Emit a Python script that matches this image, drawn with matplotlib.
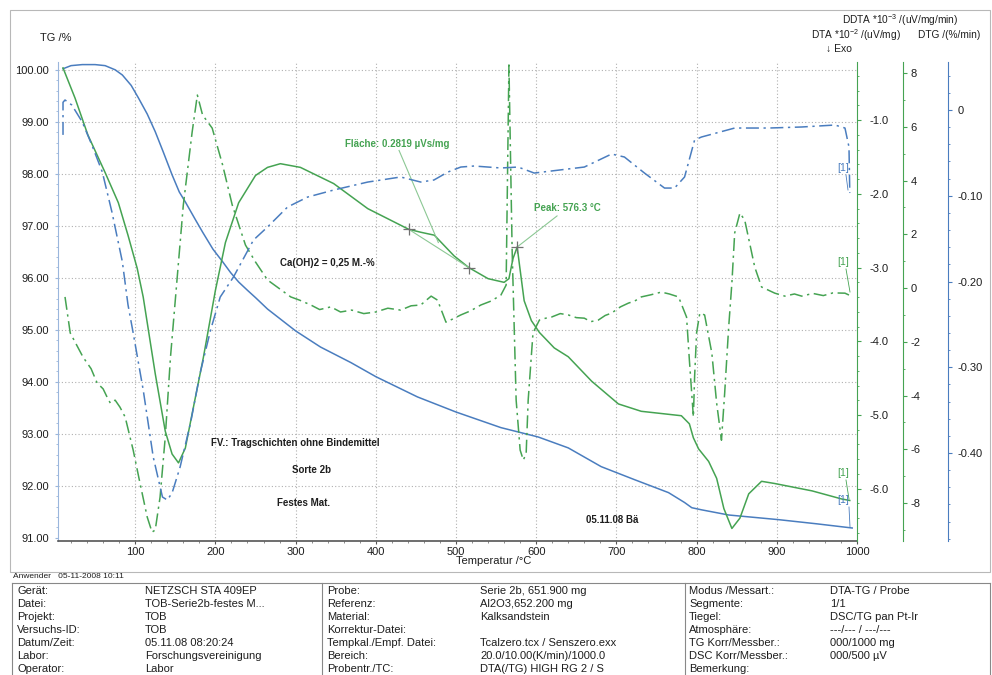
import matplotlib
matplotlib.use('Agg')
import matplotlib.pyplot as plt
from matplotlib.ticker import MultipleLocator, FixedLocator, FuncFormatter
from matplotlib.lines import Line2D
from matplotlib.patches import Rectangle

plt.rcParams['font.family'] = ['Liberation Sans', 'DejaVu Sans']
plt.rcParams['mathtext.fontset'] = 'custom'
plt.rcParams['mathtext.rm'] = 'Liberation Sans'

W, H = 992, 675
BLUE = '#4a7dbf'
GREEN = '#45a352'
LBLUE = '#9ab6dc'
TXT = '#1e1e1e'
DASHDOT = (0, (8.5, 3, 1.5, 3))

# --- TG (%)
tg_t = [10, 20, 34, 50, 62.5, 75, 84, 95, 104, 115, 125, 135, 146, 155, 162.5,
        175, 184, 197, 209, 219, 229, 240, 250, 265, 280, 300, 331, 369, 400,
        452, 500, 556, 602.5, 640, 681, 722.5, 765, 785, 794, 806, 840, 902.5,
        950, 994]
tg_v = [100.02, 100.08, 100.10, 100.10, 100.08, 100.00, 99.90, 99.70, 99.46,
        99.15, 98.81, 98.42, 97.98, 97.65, 97.46, 97.12, 96.88, 96.55, 96.31,
        96.10, 95.92, 95.76, 95.62, 95.40, 95.22, 94.98, 94.67, 94.37, 94.10,
        93.71, 93.42, 93.12, 92.94, 92.73, 92.37, 92.12, 91.87, 91.68, 91.58,
        91.54, 91.44, 91.35, 91.27, 91.19]

# --- DTA *10^-2 (uV/mg)
dta_t = [10, 25, 41, 62.5, 79, 91, 102.5, 110, 125, 137.5, 146, 154, 162.5,
         172.5, 185, 200, 212.5, 229, 250, 265, 281, 306, 347.5, 390, 441, 456,
         473, 497.5, 516, 540, 560, 566, 571, 576.3, 579, 585, 594, 604, 622.5,
         640, 669, 702.5, 731, 781, 791, 796, 802.5, 815, 825, 834, 844, 854,
         865, 881, 897.5, 944, 981, 991]
dta_v = [-0.29, -0.70, -1.20, -1.71, -2.12, -2.56, -3.01, -3.40, -4.44, -5.22,
         -5.53, -5.65, -5.45, -4.90, -4.22, -3.31, -2.66, -2.12, -1.75, -1.64,
         -1.59, -1.64, -1.86, -2.20, -2.48, -2.52, -2.56, -2.84, -3.00, -3.15,
         -3.20, -3.15, -2.88, -2.72, -2.95, -3.45, -3.72, -3.88, -4.09, -4.21,
         -4.54, -4.85, -4.95, -5.01, -5.12, -5.31, -5.46, -5.63, -5.86, -6.27,
         -6.54, -6.40, -6.07, -5.90, -5.93, -6.03, -6.14, -6.16]

# --- DDTA *10^-3 (uV/mg/min)
ddta_t = [12.5, 19, 35, 45, 52.5, 60, 65, 69, 75, 81, 87.5, 97.5, 106, 115, 121,
          125, 131, 137.5, 144, 150, 160, 171, 177.5, 184, 196, 209, 221, 237.5,
          250, 265, 294, 305, 319, 330, 344, 356, 370, 385, 400, 415, 431, 444,
          456, 469, 477, 487.5, 496, 506, 518, 531, 544, 556, 562.5, 566, 570,
          575, 580, 584, 587.5, 590, 596, 604, 612, 619, 630, 640, 650, 660,
          668, 677.5, 686, 694, 705, 715, 723, 731, 743, 756, 766, 777.5, 787.5,
          791, 796, 797.5, 800, 804, 810, 819, 825, 831, 835, 840, 844, 847.5,
          854, 860, 872.5, 881, 897.5, 910, 922, 931, 945, 958, 970, 985, 990]
ddta_v = [-0.33, -1.67, -2.57, -3.00, -3.53, -3.75, -4.06, -4.28, -4.17, -4.43,
          -4.80, -6.03, -7.26, -8.52, -9.08, -9.00, -7.78, -5.54, -2.57, -0.45,
          3.09, 5.80, 7.18, 6.44, 5.95, 4.58, 3.09, 1.60, 0.97, 0.30, -0.33,
          -0.45, -0.63, -0.80, -0.70, -0.89, -0.82, -0.95, -0.89, -0.75, -0.82,
          -0.66, -0.63, -0.30, -0.45, -1.27, -1.15, -1.00, -0.85, -0.63, -0.48,
          -0.26, 0.11, 8.30, 1.41, -4.17, -6.03, -6.40, -6.14, -4.17, -1.67,
          -1.19, -1.12, -1.08, -0.95, -1.00, -1.10, -1.12, -1.25, -1.19, -1.02,
          -0.93, -0.70, -0.56, -0.48, -0.33, -0.25, -0.15, -0.22, -0.33, -1.08,
          -2.68, -4.80, -3.31, -1.67, -0.93, -1.00, -2.42, -4.28, -5.66, -3.91,
          -1.45, 0.19, 2.05, 2.79, 2.53, 0.78, 0.04, -0.19, -0.30, -0.22, -0.30,
          -0.20, -0.28, -0.18, -0.19, -0.26]

# --- DTG (%/min)
dtg_t = [10, 10, 12.5, 21, 34, 46, 59, 71, 84, 91, 97.5, 110, 122.5, 134, 140,
         146, 156, 169, 181, 194, 206, 222.5, 247.5, 265, 290, 315, 347.5, 390,
         431, 456, 472.5, 490, 506, 522.5, 556, 577.5, 597.5, 619, 660, 694,
         710, 735, 760, 772.5, 785, 797.5, 806, 847.5, 890, 931, 972.5, 985,
         990, 991]
dtg_v = [-0.029, 0.009, 0.0117, 0.0058, -0.014, -0.0408, -0.0723, -0.119,
         -0.177, -0.227, -0.260, -0.3265, -0.4047, -0.4513, -0.4548, -0.4466,
         -0.4163, -0.365, -0.3067, -0.2566, -0.2181, -0.1948, -0.1516, -0.1364,
         -0.1131, -0.1015, -0.0933, -0.084, -0.0781, -0.084, -0.0816, -0.0723,
         -0.0665, -0.0653, -0.0676, -0.0665, -0.0735, -0.0711, -0.0665,
         -0.0513, -0.0548, -0.0735, -0.091, -0.091, -0.0781, -0.035, -0.0315,
         -0.021, -0.021, -0.0198, -0.0175, -0.021, -0.0431, -0.0968]

# evaluation markers on the DTA curve
area_pts_t = [441, 516]
area_pts_v = [-2.48, -3.00]
peak_t, peak_v = 576.3, -2.72

x_ticks = [100, 200, 300, 400, 500, 600, 700, 800, 900, 1000]
tg_ticks = [91, 92, 93, 94, 95, 96, 97, 98, 99, 100]
dta_ticks = [-6, -5, -4, -3, -2, -1]
ddta_ticks = [-8, -6, -4, -2, 0, 2, 4, 6, 8]
dtg_ticks = [-0.4, -0.3, -0.2, -0.1, 0.0]


def fx(x):
    return x / W


def fy(y):
    return 1 - y / H


fig = plt.figure(figsize=(W / 100, H / 100), dpi=100)
fig.patch.set_facecolor('white')

# outer frame of the plot page
fig.add_artist(Rectangle((fx(10), fy(572)), fx(980), 562 / H, fill=False,
                         ec='#b8b8b8', lw=0.8, transform=fig.transFigure))

ax = fig.add_axes([fx(58), fy(541), fx(857 - 58), (541 - 62) / H])
ax.set_xlim(3.75, 1000)
ax.set_ylim(90.94, 100.15)
ax.xaxis.set_major_locator(FixedLocator(x_ticks))
ax.xaxis.set_minor_locator(MultipleLocator(20))
ax.yaxis.set_major_locator(FixedLocator(tg_ticks))
ax.yaxis.set_minor_locator(MultipleLocator(0.2))
ax.yaxis.set_major_formatter(FuncFormatter(lambda v, p: f'{v:.2f}'))
ax.tick_params(axis='x', which='major', length=2.5, pad=1.5, labelsize=8,
               colors='#555555', labelcolor=TXT)
ax.tick_params(axis='x', which='minor', length=1.5, colors='#777777')
ax.tick_params(axis='y', which='major', length=2.5, pad=4, labelsize=8,
               colors=LBLUE, labelcolor=TXT)
ax.tick_params(axis='y', which='minor', length=1.5, colors=LBLUE)
for s in ('top', 'right'):
    ax.spines[s].set_visible(False)
ax.spines['left'].set_color(LBLUE)
ax.spines['bottom'].set_color('#555555')
ax.spines['bottom'].set_linewidth(1.2)

# dotted grid at the major ticks
for t in x_ticks[:-1]:
    ax.axvline(t, color='#b0b0b0', lw=0.8, ls=(0, (1, 2)), zorder=0)
for v in tg_ticks[1:]:
    ax.axhline(v, color='#b0b0b0', lw=0.8, ls=(0, (1, 2)), zorder=0)

ax.plot(tg_t, tg_v, color=BLUE, lw=1.1, zorder=3)


def side_axis(offset_px, color, lo, hi, ticks, minor, fmt, pad):
    a = ax.twinx()
    a.set_ylim(lo, hi)
    for s in ('top', 'left', 'bottom'):
        a.spines[s].set_visible(False)
    a.spines['right'].set_position(('outward', offset_px * 0.72))
    a.spines['right'].set_color(color)
    a.yaxis.set_major_locator(FixedLocator(ticks))
    a.yaxis.set_minor_locator(MultipleLocator(minor))
    a.yaxis.set_major_formatter(FuncFormatter(fmt))
    a.tick_params(axis='y', which='major', length=3, pad=pad, labelsize=8,
                  colors=color, labelcolor=TXT)
    a.tick_params(axis='y', which='minor', length=1.5, colors=color)
    return a


ax2 = side_axis(0, GREEN, -6.71, -0.21, dta_ticks, 0.2,
                lambda v, p: f'{v:.1f}', 6)
ax3 = side_axis(46, GREEN, -9.41, 8.41, ddta_ticks, 1,
                lambda v, p: f'{v:.0f}', 2.5)
ax4 = side_axis(91, BLUE, -0.5026, 0.056, dtg_ticks, 0.02,
                lambda v, p: '0' if abs(v) < 1e-9 else f'{v:.2f}', 4)

ax2.plot(dta_t, dta_v, color=GREEN, lw=1.1)
ax3.plot(ddta_t, ddta_v, color=GREEN, lw=1.1, ls=DASHDOT)
ax4.plot(dtg_t, dtg_v, color=BLUE, lw=1.1, ls=DASHDOT)

# peak area: baseline, crosses and labels
ax2.plot(area_pts_t, area_pts_v, color='#8cc894', lw=0.8)
ax2.plot(area_pts_t + [peak_t], area_pts_v + [peak_v], ls='none', marker='+',
         ms=8, mew=0.9, color='#707070', zorder=5)
ax2.plot([429, 478], [-1.41, -2.66], color='#8cc894', lw=0.8)
ax2.text(362, -1.39, 'Fläche: 0.2819 µVs/mg', color=GREEN, fontsize=7,
         fontweight='bold', ha='left', va='bottom')
ax2.annotate('Peak: 576.3 °C', xy=(peak_t, peak_v), xytext=(597, -2.26),
             color=GREEN, fontsize=7, fontweight='bold', ha='left', va='bottom',
             arrowprops=dict(arrowstyle='-', color='#8cc894', lw=0.8,
                             shrinkA=0, shrinkB=0))

# curve end tags
for (tx, ty), (x0, y0, x1, y1), c in [
        ((843, 168), (846, 175, 848, 190), BLUE),
        ((843, 262), (846, 269, 850, 292), GREEN),
        ((843, 473), (846, 480, 849, 499), GREEN),
        ((843, 500), (849, 507, 850, 527), BLUE)]:
    fig.text(fx(tx), fy(ty), '[1]', color=c, fontsize=7.5, ha='center',
             va='center')
    fig.add_artist(Line2D([fx(x0), fx(x1)], [fy(y0), fy(y1)], color=c, lw=0.6,
                          transform=fig.transFigure))

# axis titles
fig.text(fx(40), fy(38), 'TG /%', fontsize=8, color=TXT, va='center')
fig.text(fx(900), fy(20), r'DDTA *10$^{-3}$ /(uV/mg/min)', fontsize=7.3,
         color=TXT, ha='center', va='center')
fig.text(fx(856), fy(35), r'DTA *10$^{-2}$ /(uV/mg)', fontsize=7.3, color=TXT,
         ha='center', va='center')
fig.text(fx(949), fy(35), 'DTG /(%/min)', fontsize=7.3, color=TXT,
         ha='center', va='center')
fig.text(fx(839), fy(49), '↓ Exo', fontsize=7.5, color=TXT, ha='center',
         va='center')
fig.text(fx(494), fy(561), 'Temperatur /°C', fontsize=8, color=TXT,
         ha='center', va='center')

# notes inside the plot
notes = [(327, 263, 'Ca(OH)2 = 0,25 M.-%'),
         (295, 443, 'FV.: Tragschichten ohne Bindemittel'),
         (312, 470, 'Sorte 2b'),
         (304, 503, 'Festes Mat.'),
         (612, 520, '05.11.08 Bä')]
for x, y, s in notes:
    fig.text(fx(x), fy(y), s, fontsize=7, fontweight='bold', color=TXT,
             ha='center', va='center')

# footer table
fig.text(fx(13), fy(577), 'Anwender   05-11-2008 10:11', fontsize=6,
         color=TXT, va='center')
for seg in [((12, 990), (583, 583)), ((12, 12), (583, 675)),
            ((322, 322), (583, 675)), ((685, 685), (583, 675)),
            ((990, 990), (583, 675))]:
    fig.add_artist(Line2D([fx(v) for v in seg[0]], [fy(v) for v in seg[1]],
                          color='#888888', lw=0.8, transform=fig.transFigure))

labels_1 = ['Gerät:', 'Datei:', 'Projekt:', 'Versuchs-ID:', 'Datum/Zeit:',
            'Labor:', 'Operator:']
values_1 = ['NETZSCH STA 409EP', 'TOB-Serie2b-festes M...', 'TOB', 'TOB',
            '05.11.08 08:20:24', 'Forschungsvereinigung', 'Labor']
labels_2 = ['Probe:', 'Referenz:', 'Material:', 'Korrektur-Datei:',
            'Tempkal./Empf. Datei:', 'Bereich:', 'Probentr./TC:']
values_2 = ['Serie 2b, 651.900 mg', 'Al2O3,652.200 mg', 'Kalksandstein', '',
            'Tcalzero.tcx / Senszero.exx', '20.0/10.00(K/min)/1000.0',
            'DTA(/TG) HIGH RG 2 / S']
labels_3 = ['Modus /Messart.:', 'Segmente:', 'Tiegel:', 'Atmosphäre:',
            'TG Korr/Messber.:', 'DSC Korr/Messber.:', 'Bemerkung:']
values_3 = ['DTA-TG / Probe', '1/1', 'DSC/TG pan Pt-Ir', '---/--- / ---/---',
            '000/1000 mg', '000/500 µV', '']
row_y = [591, 604, 617, 630, 643, 656, 669]
for col_x, texts in [(17, labels_1), (145, values_1), (327, labels_2),
                     (480, values_2), (689, labels_3), (830, values_3)]:
    for y, s in zip(row_y, texts):
        fig.text(fx(col_x), fy(y), s, fontsize=8, color=TXT, va='center')

fig.savefig('out.png', dpi=100, facecolor='white')
